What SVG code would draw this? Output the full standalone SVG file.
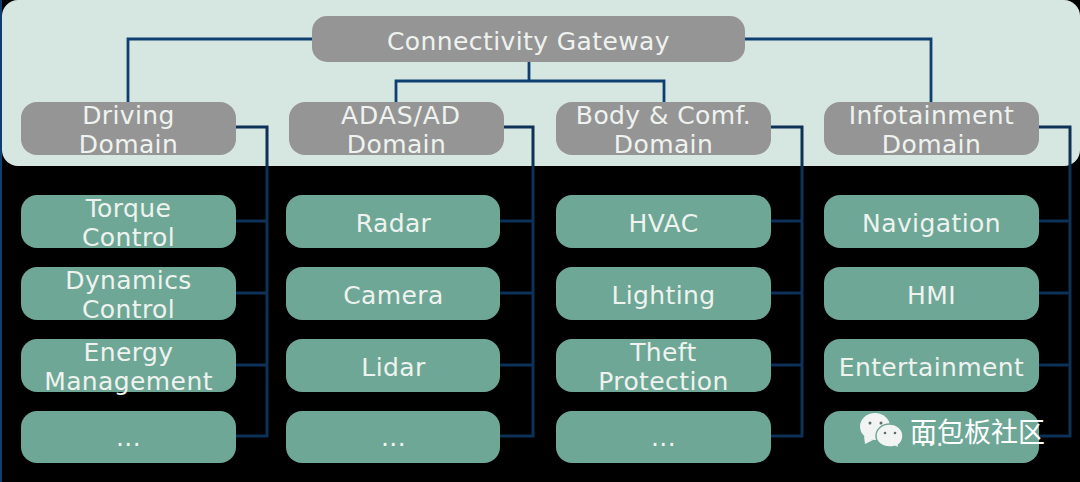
<svg xmlns="http://www.w3.org/2000/svg" width="1080" height="482" viewBox="0 0 1080 482">
<style>
.g{fill:#969595}
.t{fill:#6ea796}
.l{fill:none;stroke:#0f3f70;stroke-width:2.8}
.d{fill:none;stroke:#0d3157;stroke-width:3}
text{font-family:"DejaVu Sans",sans-serif;font-size:25px;text-anchor:middle;fill:#eef3f0;letter-spacing:.4px}
.w{fill:#f2f4f3}
.c{fill:#f2f4f3;stroke:#6ea796;stroke-width:1.500}
.e{fill:#5f6b67}
.wm{font-family:"Noto Sans CJK SC",sans-serif;font-size:27px;fill:#fff;text-anchor:start;letter-spacing:0}
</style>
<rect width="1080" height="482" fill="#000"/>
<rect x="0" y="0" width="2" height="482" fill="#0f3f70"/>
<rect x="2" y="0" width="1078" height="166" rx="16" fill="#d6e7e1"/>
<g id="connectors">
<path class="l" d="M312 39H128V102M745 39H931V102M529 62V81M396 102V81H664V102"/>
<path class="d" d="M236 127H267V436H236M236 221H267M236 293H267M236 365H267"/>
<path class="d" d="M504 127H533V436H500M500 221H533M500 293H533M500 365H533"/>
<path class="d" d="M771 127H802V436H771M771 221H802M771 293H802M771 365H802"/>
<path class="d" d="M1039 127H1070V436H1039M1039 221H1070M1039 293H1070M1039 365H1070"/>
</g>
<g id="gateway"><rect class="g" x="312" y="16" width="433" height="46" rx="15"/><text x="528.500" y="50">Connectivity Gateway</text></g>
<g id="driving-domain"><rect class="g" x="21" y="102" width="215" height="53" rx="16"/><text x="128.500" y="124">Driving</text><text x="128.500" y="153">Domain</text></g>
<g id="adas-domain"><rect class="g" x="289" y="102" width="215" height="53" rx="16"/><text x="401" y="124" style="letter-spacing:.9px">ADAS/AD</text><text x="396.500" y="153">Domain</text></g>
<g id="body-domain"><rect class="g" x="556" y="102" width="215" height="53" rx="16"/><text x="663.500" y="124">Body &amp; Comf.</text><text x="663.500" y="153">Domain</text></g>
<g id="infotainment-domain"><rect class="g" x="824" y="102" width="215" height="53" rx="16"/><text x="931.500" y="124">Infotainment</text><text x="931.500" y="153">Domain</text></g>
<g id="torque"><rect class="t" x="21" y="195" width="215" height="53" rx="16"/><text x="128.500" y="217">Torque</text><text x="128.500" y="246">Control</text></g>
<g id="dynamics"><rect class="t" x="21" y="267" width="215" height="53" rx="16"/><text x="128.500" y="289">Dynamics</text><text x="128.500" y="318">Control</text></g>
<g id="energy"><rect class="t" x="21" y="339" width="215" height="53" rx="16"/><text x="128.500" y="361">Energy</text><text x="128.500" y="390">Management</text></g>
<g id="driving-more"><rect class="t" x="21" y="411" width="215" height="52" rx="16"/><text x="128.500" y="446">...</text></g>
<g id="radar"><rect class="t" x="286" y="195" width="214" height="53" rx="16"/><text x="393.500" y="232">Radar</text></g>
<g id="camera"><rect class="t" x="286" y="267" width="214" height="53" rx="16"/><text x="393.500" y="304">Camera</text></g>
<g id="lidar"><rect class="t" x="286" y="339" width="214" height="53" rx="16"/><text x="393.500" y="376">Lidar</text></g>
<g id="adas-more"><rect class="t" x="286" y="411" width="214" height="52" rx="16"/><text x="393.500" y="446">...</text></g>
<g id="hvac"><rect class="t" x="556" y="195" width="215" height="53" rx="16"/><text x="663.500" y="232">HVAC</text></g>
<g id="lighting"><rect class="t" x="556" y="267" width="215" height="53" rx="16"/><text x="663.500" y="304">Lighting</text></g>
<g id="theft"><rect class="t" x="556" y="339" width="215" height="53" rx="16"/><text x="663.500" y="361">Theft</text><text x="663.500" y="390">Protection</text></g>
<g id="body-more"><rect class="t" x="556" y="411" width="215" height="52" rx="16"/><text x="663.500" y="446">...</text></g>
<g id="navigation"><rect class="t" x="824" y="195" width="215" height="53" rx="16"/><text x="931.500" y="232">Navigation</text></g>
<g id="hmi"><rect class="t" x="824" y="267" width="215" height="53" rx="16"/><text x="931.500" y="304">HMI</text></g>
<g id="entertainment"><rect class="t" x="824" y="339" width="215" height="53" rx="16"/><text x="931.500" y="376">Entertainment</text></g>
<g id="info-more"><rect class="t" x="824" y="411" width="215" height="52" rx="16"/><text x="931.500" y="446">...</text></g>
<g id="watermark">
<ellipse class="w" cx="875" cy="426.500" rx="15" ry="13.500"/>
<path class="w" d="M864 436l1 8 8-4z"/>
<path class="c" d="M889.500 424c7.500 0 13.500 5.300 13.500 12 0 3.600-1.800 6.900-4.600 9l1 3-5-1.600c-1.500.4-3.200.6-4.900.6-7.500 0-13.500-4.800-13.500-11 0-6.700 6-12 13.500-12z"/>
<circle class="e" cx="870" cy="423" r="1.500"/><circle class="e" cx="881" cy="423" r="1.500"/>
<circle class="e" cx="885" cy="433" r="1.300"/><circle class="e" cx="895" cy="433" r="1.300"/>
<text class="wm" x="910" y="442">面包板社区</text>
</g>
</svg>
